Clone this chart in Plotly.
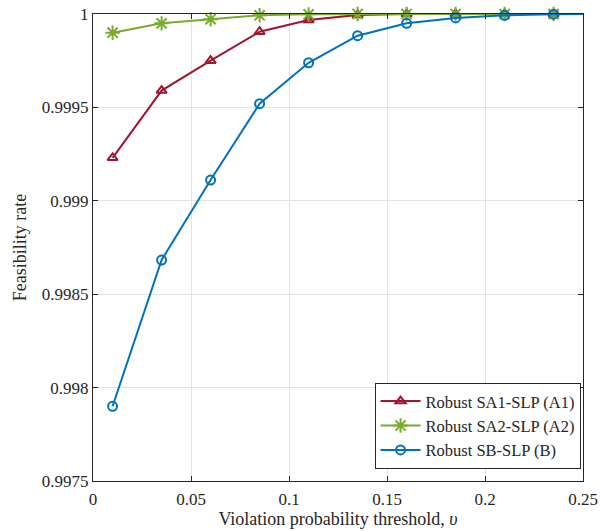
import plotly.graph_objects as go

# Data (last point lies just beyond the visible x-range; line runs to the edge)
thresholds = [0.01, 0.035, 0.06, 0.085, 0.11, 0.135, 0.16, 0.185, 0.21, 0.235, 0.26]
rate_sa1 = [0.99923, 0.99959, 0.99975, 0.999905, 0.999968, 0.999995, 1.0, 1.0, 1.0, 1.0, 1.0]
rate_sa2 = [0.99990, 0.99995, 0.999972, 0.999993, 0.999998, 1.0, 1.0, 1.0, 1.0, 1.0, 1.0]
rate_sb = [0.99790, 0.998683, 0.999111, 0.99952, 0.999739, 0.999884, 0.99995, 0.999979, 0.999993, 0.999999, 1.0]

series_names = ["Robust SA1-SLP (A1)", "Robust SA2-SLP (A2)", "Robust SB-SLP (B)"]

x_ticks = [0, 0.05, 0.1, 0.15, 0.2, 0.25]
x_tick_text = ["0", "0.05", "0.1", "0.15", "0.2", "0.25"]
y_ticks = [0.9975, 0.998, 0.9985, 0.999, 0.9995, 1.0]
y_tick_text = ["0.9975", "0.998", "0.9985", "0.999", "0.9995", "1"]

colors = ["#A2142F", "#77AC30", "#0072BD"]
symbols = ["triangle-up-open", "asterisk-open", "circle-open"]
msizes = [9, 12, 9]

FONT = '"Liberation Serif", "DejaVu Serif", serif'

fig = go.Figure()
for name, ys, col, sym, ms in zip(series_names, [rate_sa1, rate_sa2, rate_sb], colors, symbols, msizes):
    n = len(thresholds) - 1
    fig.add_trace(go.Scatter(
        x=thresholds[:n], y=ys[:n], mode="lines+markers", name=name,
        line=dict(color=col, width=2),
        marker=dict(symbol=sym, size=ms, color=col, line=dict(color=col, width=2)),
        cliponaxis=False,
    ))
    fig.add_trace(go.Scatter(
        x=thresholds[n - 1:], y=ys[n - 1:], mode="lines", showlegend=False,
        line=dict(color=col, width=2), hoverinfo="skip",
    ))

axis_common = dict(
    showgrid=True, gridcolor="#e3e3e3", gridwidth=1,
    showline=True, linecolor="#262626", linewidth=1, mirror="ticks",
    ticks="inside", ticklen=5, tickcolor="#262626",
    zeroline=False, automargin=False,
    tickfont=dict(family=FONT, size=17, color="#262626"),
)

fig.update_layout(
    width=603, height=531,
    margin=dict(l=93, r=20, t=14, b=50),
    paper_bgcolor="white", plot_bgcolor="white",
    showlegend=True,
    font=dict(family=FONT, size=17, color="#262626"),
    legend=dict(
        x=0.995, y=0.026, xanchor="right", yanchor="bottom",
        bgcolor="white", bordercolor="#262626", borderwidth=1,
        font=dict(family=FONT, size=16.5, color="#262626"),
        tracegroupgap=0, itemwidth=40,
    ),
    xaxis=dict(
        range=[0, 0.25], tickvals=x_ticks, ticktext=x_tick_text,
        ticklabelstandoff=3,
        title=dict(text="Violation probability threshold, <i>υ</i>", standoff=2,
                   font=dict(family=FONT, size=18, color="#262626")),
        **axis_common,
    ),
    yaxis=dict(
        range=[0.9975, 1.0], tickvals=y_ticks, ticktext=y_tick_text,
        title=dict(text="Feasibility rate", standoff=10,
                   font=dict(family=FONT, size=18, color="#262626")),
        **axis_common,
    ),
)

fig.write_html("out.html")
